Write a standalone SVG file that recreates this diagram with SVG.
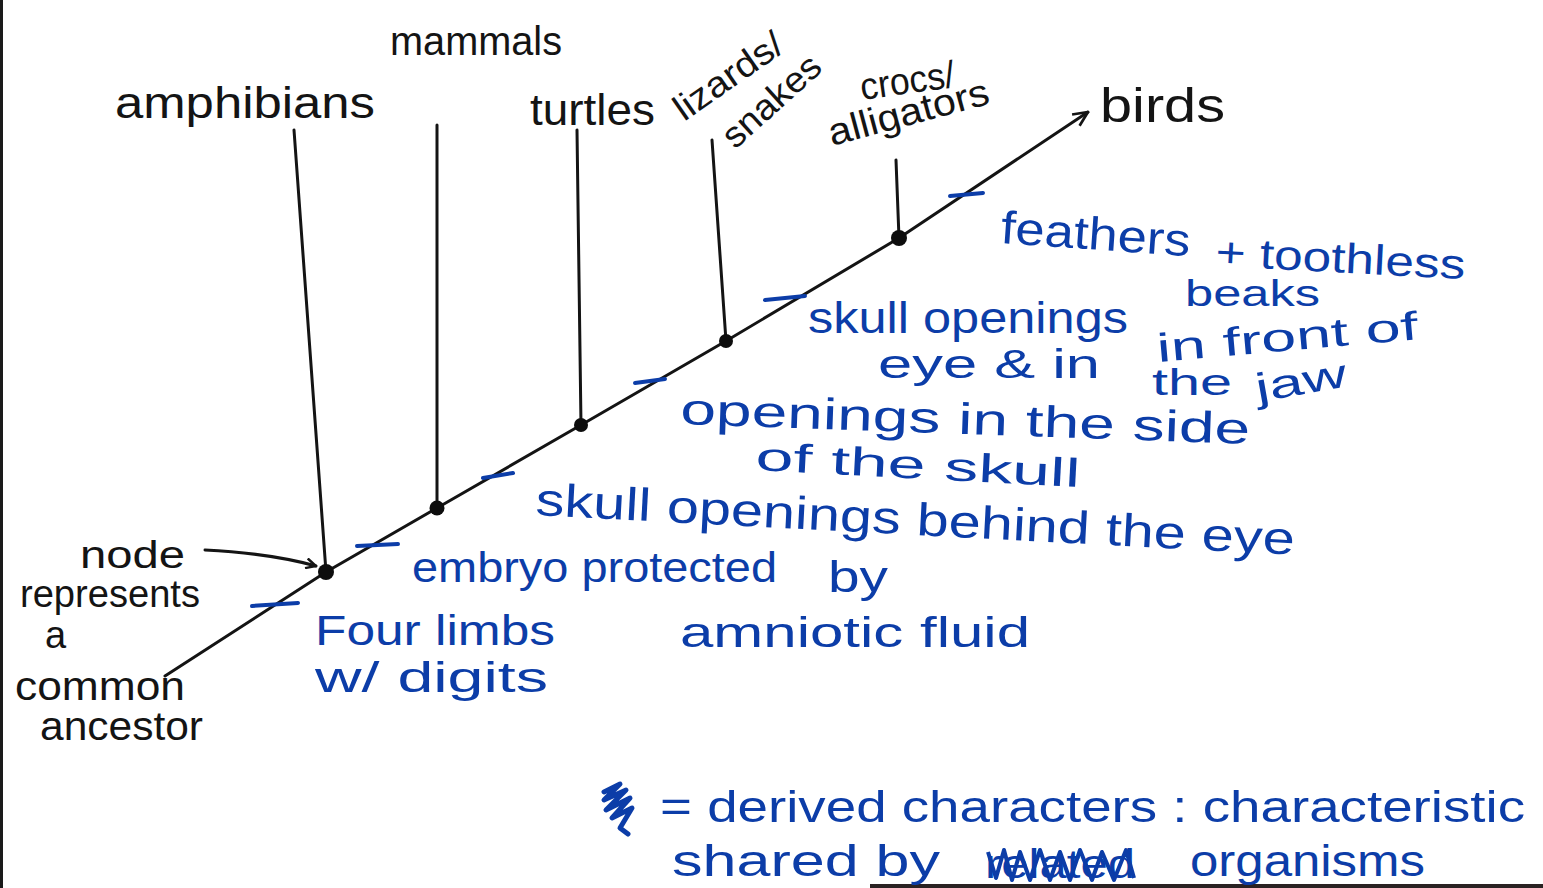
<svg xmlns="http://www.w3.org/2000/svg" width="1543" height="888" viewBox="0 0 1543 888">
<defs>
<style>
.k{font-family:"Liberation Sans","DejaVu Sans",sans-serif;fill:#141414;}
.b{font-family:"Liberation Sans","DejaVu Sans",sans-serif;fill:#0c3da8;}
.ln{stroke:#141414;stroke-width:3;fill:none;stroke-linecap:round;}
.tk{stroke:#0c3da8;stroke-width:4;fill:none;stroke-linecap:round;}
.nd{fill:#0d0d0d;}
</style>
<marker id="ah" viewBox="0 0 12 12" refX="11" refY="6" markerWidth="12" markerHeight="12" markerUnits="userSpaceOnUse" orient="auto">
<path d="M1,1 L11,6 L1,11" fill="none" stroke="#141414" stroke-width="2.4"/>
</marker>
<marker id="ah2" viewBox="0 0 16 16" refX="15" refY="8" markerWidth="18" markerHeight="18" markerUnits="userSpaceOnUse" orient="auto">
<path d="M2,2 L15,8 L2,14" fill="none" stroke="#141414" stroke-width="2.4"/>
</marker>
</defs>
<rect width="1543" height="888" fill="#ffffff"/>
<line x1="1.5" y1="0" x2="1.5" y2="888" stroke="#1a1a1a" stroke-width="3"/>
<line x1="870" y1="886" x2="1543" y2="886" stroke="#2a2222" stroke-width="4"/>

<g id="connectors">
<polyline class="ln" points="165,676 326,572 437,508 581,425 726,341 899,238 1088,112" marker-end="url(#ah2)"/>
<line class="ln" x1="294" y1="130" x2="326" y2="572"/>
<line class="ln" x1="437" y1="125" x2="437" y2="508"/>
<line class="ln" x1="577" y1="130" x2="581" y2="425"/>
<line class="ln" x1="712" y1="140" x2="726" y2="341"/>
<line class="ln" x1="896" y1="160" x2="899" y2="238"/>
<path class="ln" d="M205,550 C245,552 280,556 316,566" marker-end="url(#ah)"/>
</g>

<g id="ticks">
<line class="tk" x1="252" y1="606" x2="298" y2="603"/>
<line class="tk" x1="357" y1="546" x2="398" y2="544"/>
<line class="tk" x1="483" y1="478" x2="513" y2="473"/>
<line class="tk" x1="635" y1="383" x2="665" y2="379"/>
<line class="tk" x1="765" y1="300" x2="805" y2="296"/>
<line class="tk" x1="950" y1="196" x2="983" y2="193"/>
</g>

<g id="nodes">
<circle class="nd" cx="326" cy="572" r="8"/>
<circle class="nd" cx="437" cy="508" r="7.5"/>
<circle class="nd" cx="581" cy="425" r="7"/>
<circle class="nd" cx="726" cy="341" r="7"/>
<circle class="nd" cx="899" cy="238" r="8"/>
</g>

<g id="taxa">
<text class="k" x="390" y="55" font-size="40" textLength="172" lengthAdjust="spacingAndGlyphs">mammals</text>
<text class="k" x="115" y="118" font-size="44" textLength="260" lengthAdjust="spacingAndGlyphs">amphibians</text>
<text class="k" x="530" y="125" font-size="44" textLength="125" lengthAdjust="spacingAndGlyphs">turtles</text>
<text class="k" x="684" y="122" font-size="36" textLength="125" lengthAdjust="spacingAndGlyphs" transform="rotate(-35 684 122)">lizards/</text>
<text class="k" x="735" y="150" font-size="36" textLength="120" lengthAdjust="spacingAndGlyphs" transform="rotate(-42 735 150)">snakes</text>
<text class="k" x="862" y="100" font-size="38" textLength="95" lengthAdjust="spacingAndGlyphs" transform="rotate(-8 862 100)">crocs/</text>
<text class="k" x="832" y="146" font-size="38" textLength="165" lengthAdjust="spacingAndGlyphs" transform="rotate(-15 832 146)">alligators</text>
<text class="k" x="1100" y="122" font-size="48" textLength="125" lengthAdjust="spacingAndGlyphs">birds</text>
</g>

<g id="node-label">
<text class="k" x="80" y="568" font-size="38" textLength="105" lengthAdjust="spacingAndGlyphs">node</text>
<text class="k" x="20" y="607" font-size="38" textLength="180" lengthAdjust="spacingAndGlyphs">represents</text>
<text class="k" x="45" y="648" font-size="38">a</text>
<text class="k" x="15" y="700" font-size="40" textLength="170" lengthAdjust="spacingAndGlyphs">common</text>
<text class="k" x="40" y="740" font-size="40" textLength="163" lengthAdjust="spacingAndGlyphs">ancestor</text>
</g>

<g id="characters">
<text class="b" x="1000" y="243" font-size="46" textLength="190" lengthAdjust="spacingAndGlyphs" transform="rotate(4 1000 243)">feathers</text>
<text class="b" x="1215" y="266" font-size="42" textLength="250" lengthAdjust="spacingAndGlyphs" transform="rotate(3 1215 266)">+ toothless</text>
<text class="b" x="1185" y="306" font-size="36" textLength="135" lengthAdjust="spacingAndGlyphs">beaks</text>
<text class="b" x="808" y="333" font-size="44" textLength="320" lengthAdjust="spacingAndGlyphs">skull openings</text>
<text class="b" x="1158" y="362" font-size="40" textLength="262" lengthAdjust="spacingAndGlyphs" transform="rotate(-5 1158 362)">in front of</text>
<text class="b" x="878" y="378" font-size="40" textLength="222" lengthAdjust="spacingAndGlyphs">eye &amp; in</text>
<text class="b" x="1152" y="395" font-size="36" textLength="80" lengthAdjust="spacingAndGlyphs">the</text>
<text class="b" x="1258" y="402" font-size="40" textLength="92" lengthAdjust="spacingAndGlyphs" transform="rotate(-10 1258 402)">jaw</text>
<text class="b" x="680" y="424" font-size="44" textLength="570" lengthAdjust="spacingAndGlyphs" transform="rotate(2 680 424)">openings in the side</text>
<text class="b" x="755" y="470" font-size="40" textLength="325" lengthAdjust="spacingAndGlyphs" transform="rotate(3 755 470)">of the skull</text>
<text class="b" x="535" y="515" font-size="46" textLength="760" lengthAdjust="spacingAndGlyphs" transform="rotate(3 535 515)">skull openings behind the eye</text>
<text class="b" x="412" y="582" font-size="42" textLength="365" lengthAdjust="spacingAndGlyphs">embryo protected</text>
<text class="b" x="828" y="592" font-size="44" textLength="60" lengthAdjust="spacingAndGlyphs">by</text>
<text class="b" x="680" y="647" font-size="42" textLength="350" lengthAdjust="spacingAndGlyphs">amniotic fluid</text>
<text class="b" x="315" y="645" font-size="42" textLength="240" lengthAdjust="spacingAndGlyphs">Four limbs</text>
<text class="b" x="315" y="692" font-size="42" textLength="233" lengthAdjust="spacingAndGlyphs">w/ digits</text>
</g>

<g id="legend">
<path d="M604,792 L620,784 L604,800 L626,790 L606,810 L630,798 L612,818 L632,808 L620,828 L628,834" fill="none" stroke="#0c3da8" stroke-width="5" stroke-linejoin="round" stroke-linecap="round"/>
<text class="b" x="660" y="822" font-size="44" textLength="865" lengthAdjust="spacingAndGlyphs">= derived characters : characteristic</text>
<text class="b" x="672" y="876" font-size="44" textLength="268" lengthAdjust="spacingAndGlyphs">shared by</text>
<text class="b" x="985" y="878" font-size="40" textLength="150" lengthAdjust="spacingAndGlyphs">related</text>
<path d="M988,852 L996,878 L1004,850 L1012,880 L1020,852 L1030,880 L1040,850 L1050,880 L1060,852 L1070,880 L1080,850 L1092,880 L1102,852 L1114,880 L1126,850 L1134,878" fill="none" stroke="#0c3da8" stroke-width="4" stroke-linejoin="round"/>
<text class="b" x="1190" y="876" font-size="44" textLength="235" lengthAdjust="spacingAndGlyphs">organisms</text>
</g>
</svg>
